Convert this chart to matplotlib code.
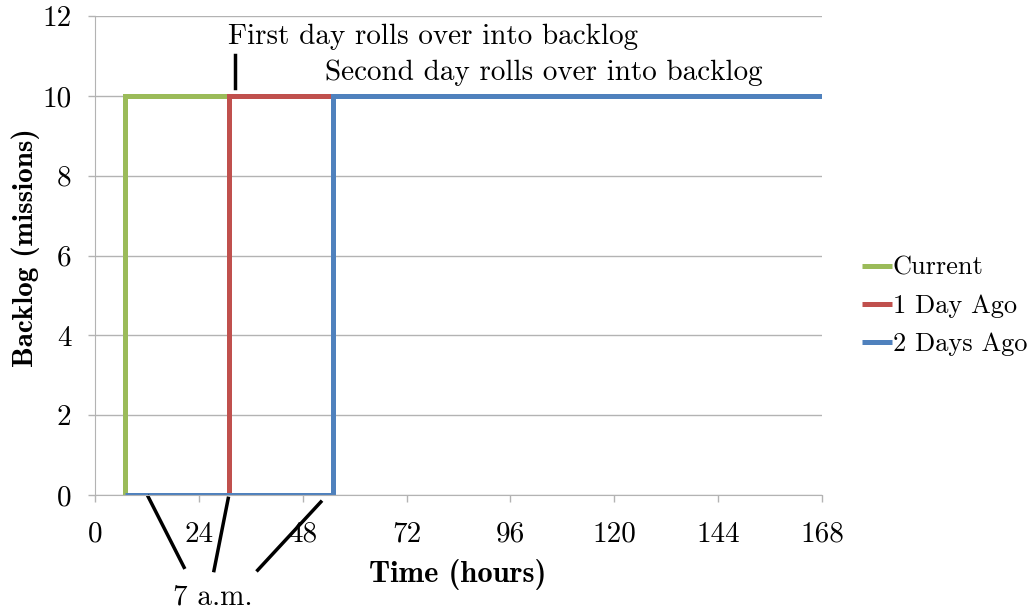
import matplotlib.pyplot as plt
from matplotlib.lines import Line2D

# series (hours, missions)
current_t = [7, 7, 31]
current_v = [0, 10, 10]
day1_t = [31, 31, 55]
day1_v = [0, 10, 10]
day2_t = [7, 55, 55, 168]
day2_v = [0, 0, 10, 10]

x_ticks = [0, 24, 48, 72, 96, 120, 144, 168]
y_ticks = [0, 2, 4, 6, 8, 10, 12]

green = '#9BBB59'
red = '#C0504D'
blue = '#4F81BD'
grid = '#b3b3b3'
fs = 21

plt.rcParams['font.family'] = ['cmr10', 'DejaVu Serif']
plt.rcParams['axes.unicode_minus'] = False

fig = plt.figure(figsize=(10.32, 6.09), dpi=100)
ax = fig.add_axes([0.092, 0.187, 0.7045, 0.7867])

ax.plot(current_t, current_v, color=green, lw=3.6, label='Current', solid_joinstyle='miter', solid_capstyle='butt')
ax.plot(day1_t, day1_v, color=red, lw=3.6, label='1 Day Ago', solid_joinstyle='miter', solid_capstyle='butt')
ax.plot(day2_t, day2_v, color=blue, lw=3.6, label='2 Days Ago', solid_joinstyle='miter', solid_capstyle='butt')

ax.set_xlim(0, 168)
ax.set_ylim(0, 12)
ax.set_xticks(x_ticks)
ax.set_xticklabels([str(t) for t in x_ticks])
ax.set_yticks(y_ticks)
ax.set_yticklabels([str(t) for t in y_ticks])
ax.tick_params(labelsize=fs, colors=grid, labelcolor='black', length=5, width=1)
ax.tick_params(axis='x', pad=14)
ax.tick_params(axis='y', pad=12)
ax.yaxis.grid(True, color=grid, lw=1)
ax.set_axisbelow(True)
for s in ['top', 'right']:
    ax.spines[s].set_visible(False)
for s in ['left', 'bottom']:
    ax.spines[s].set_color(grid)

# axis titles
fig.text(0.4438, 0.057, 'Time (hours)', fontsize=22, family='cmb10', ha='center', va='center')
fig.text(0.0245, 0.594, 'Backlog (missions)', fontsize=21, family='cmb10', ha='center', va='center', rotation=90)

# annotations
ax.text(30.7, 11.47, 'First day rolls over into backlog', fontsize=fs, va='center', ha='left')
ax.text(53.2, 10.57, 'Second day rolls over into backlog', fontsize=fs, va='center', ha='left')
ax.add_line(Line2D([32.4, 32.4], [10.2, 11.02], color='black', lw=2.5, clip_on=False))

ax.add_line(Line2D([12.3, 20.6], [-0.04, -1.81], color='black', lw=2.5, clip_on=False))
ax.add_line(Line2D([30.8, 27.5], [-0.08, -1.89], color='black', lw=2.5, clip_on=False))
ax.add_line(Line2D([52.2, 37.6], [-0.17, -1.88], color='black', lw=2.5, clip_on=False))
ax.text(27.3, -2.55, '7 a.m.', fontsize=fs, ha='center', va='center')

fig.legend(loc='center left', bbox_to_anchor=(0.835, 0.497), frameon=False, fontsize=19,
           handlelength=1.15, handletextpad=0.02, labelspacing=0.55, borderaxespad=0, borderpad=0)

fig.savefig('out.png', dpi=100)
